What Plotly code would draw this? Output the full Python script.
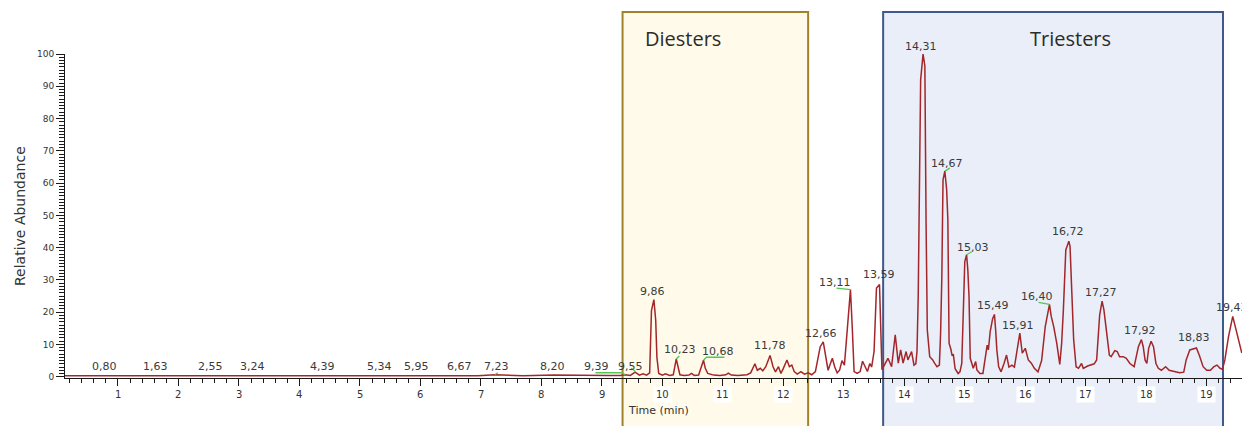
import plotly.graph_objects as go

# ---- chromatogram trace: retention time (min) and relative abundance (%) ----
RT = [
    0.12, 0.50, 0.80, 1.10, 1.63, 2.10, 2.55, 2.90, 3.24, 3.80, 4.39, 4.90,
    5.34, 5.65, 5.95, 6.30, 6.67, 6.95, 7.23, 7.70, 8.20, 8.80, 9.10, 9.30,
    9.39, 9.47, 9.55, 9.62, 9.68, 9.74, 9.79, 9.82, 9.86, 9.89, 9.91, 9.94,
    10.00, 10.05, 10.12, 10.18, 10.20, 10.23, 10.26, 10.29, 10.36, 10.44, 10.48, 10.53,
    10.60, 10.64, 10.68, 10.71, 10.75, 10.85, 10.95, 11.05, 11.09, 11.14, 11.25, 11.40,
    11.46, 11.53, 11.57, 11.62, 11.66, 11.71, 11.78, 11.83, 11.87, 11.92, 11.96, 12.00,
    12.06, 12.10, 12.14, 12.18, 12.23, 12.29, 12.35, 12.41, 12.47, 12.53, 12.61, 12.66,
    12.70, 12.74, 12.77, 12.81, 12.85, 12.89, 12.93, 12.97, 13.01, 13.07, 13.11, 13.14,
    13.17, 13.22, 13.27, 13.31, 13.35, 13.39, 13.43, 13.46, 13.50, 13.54, 13.59, 13.61,
    13.63, 13.73, 13.79, 13.85, 13.90, 13.94, 13.98, 14.03, 14.06, 14.12, 14.16, 14.19,
    14.21, 14.23, 14.26, 14.27, 14.31, 14.34, 14.36, 14.38, 14.42, 14.47, 14.50, 14.54,
    14.58, 14.60, 14.62, 14.64, 14.67, 14.70, 14.72, 14.74, 14.77, 14.79, 14.81, 14.84,
    14.89, 14.92, 14.95, 14.97, 15.00, 15.03, 15.05, 15.07, 15.09, 15.14, 15.18, 15.20,
    15.25, 15.30, 15.33, 15.37, 15.39, 15.42, 15.46, 15.49, 15.51, 15.53, 15.56, 15.60,
    15.65, 15.69, 15.73, 15.78, 15.82, 15.86, 15.91, 15.95, 16.00, 16.05, 16.10, 16.15,
    16.21, 16.27, 16.33, 16.40, 16.43, 16.47, 16.52, 16.57, 16.60, 16.63, 16.67, 16.72,
    16.74, 16.77, 16.80, 16.84, 16.88, 16.93, 16.96, 17.03, 17.08, 17.14, 17.18, 17.20,
    17.23, 17.27, 17.30, 17.34, 17.39, 17.42, 17.48, 17.52, 17.56, 17.62, 17.67, 17.73,
    17.80, 17.87, 17.92, 17.95, 17.98, 18.01, 18.04, 18.08, 18.12, 18.16, 18.20, 18.25,
    18.32, 18.38, 18.45, 18.55, 18.62, 18.66, 18.72, 18.76, 18.83, 18.88, 18.94, 19.00,
    19.06, 19.12, 19.17, 19.22, 19.26, 19.30, 19.36, 19.43, 19.48, 19.53, 19.58,
]
ABUNDANCE = [
    0.3, 0.3, 0.5, 0.3, 0.5, 0.3, 0.5, 0.3, 0.5, 0.3, 0.5, 0.3,
    0.5, 0.3, 0.5, 0.3, 0.5, 0.3, 0.6, 0.3, 0.5, 0.3, 0.4, 0.4,
    0.6, 0.4, 1.4, 0.5, 0.9, 0.5, 1.2, 20.5, 23.9, 17.5, 6.0, 1.0,
    0.5, 0.9, 0.4, 0.6, 3.0, 5.5, 3.0, 0.6, 0.4, 0.5, 1.0, 0.4,
    0.5, 3.0, 5.1, 2.6, 1.0, 0.5, 0.4, 0.6, 1.1, 0.5, 0.4, 0.6,
    1.2, 4.0, 2.0, 2.6, 1.8, 3.1, 6.6, 3.1, 1.5, 3.1, 1.0, 2.6,
    5.2, 3.1, 3.6, 1.6, 0.8, 1.6, 0.8, 1.2, 0.6, 1.6, 9.3, 10.8,
    6.2, 2.0, 3.6, 5.7, 3.0, 1.2, 2.0, 5.0, 3.6, 16.5, 27.0, 15.0,
    1.6, 1.0, 1.6, 4.8, 3.1, 1.6, 4.1, 3.0, 7.8, 27.5, 28.6, 11.0,
    2.2, 5.7, 3.1, 13.0, 4.2, 8.3, 4.2, 7.8, 5.2, 7.8, 3.6, 4.0,
    7.9, 25.0, 71.5, 92.0, 100.0, 96.3, 47.6, 14.5, 6.2, 5.2, 4.2, 3.1,
    3.6, 13.5, 30.6, 61.0, 63.7, 58.0, 48.7, 10.4, 8.5, 6.5, 7.0, 2.5,
    1.0, 1.5, 4.1, 16.6, 35.7, 37.8, 33.1, 24.8, 5.7, 2.6, 4.7, 2.1,
    1.0, 1.0, 5.2, 9.8, 8.3, 14.0, 18.0, 19.3, 14.5, 8.3, 3.1, 1.5,
    4.2, 6.7, 3.0, 3.6, 3.0, 7.3, 13.5, 7.3, 8.8, 5.2, 4.2, 2.6,
    1.5, 5.0, 15.5, 22.4, 18.6, 15.5, 10.4, 3.8, 10.0, 20.7, 39.3, 42.0,
    40.4, 25.9, 11.4, 3.1, 2.6, 4.1, 2.6, 3.3, 3.6, 4.0, 5.2, 12.4,
    19.2, 23.4, 20.7, 14.5, 6.7, 6.2, 8.1, 7.8, 6.2, 6.2, 5.7, 4.1,
    3.1, 9.3, 11.5, 9.3, 5.2, 4.1, 8.8, 11.0, 9.3, 4.1, 2.6, 2.0,
    3.1, 2.0, 1.6, 1.2, 1.4, 5.2, 8.3, 8.6, 8.9, 6.5, 3.1, 2.0,
    2.0, 3.1, 3.6, 2.6, 2.3, 5.2, 12.4, 18.7, 14.6, 10.4, 7.3,
]

# ---- labelled peaks (retention times printed above the apex) ----
PEAK_RT = [
    0.80, 1.63, 2.55, 3.24, 4.39, 5.34, 5.95, 6.67, 7.23, 8.20, 9.39, 9.55,
    9.86, 10.23, 10.68, 11.78, 12.66, 13.11, 13.59, 14.31, 14.67, 15.03,
    15.49, 15.91, 16.40, 16.72, 17.27, 17.92, 18.83, 19.43,
]

# ---- ester class windows (min) ----
REGION_NAMES = ["Diesters", "Triesters"]
REGION_START = [9.342, 13.650]
REGION_END = [12.410, 19.269]

# ---- axis ticks ----
X_TICKS = list(range(1, 20))
X_TICK_LABELS = [str(v) for v in X_TICKS]
Y_TICKS = list(range(0, 101, 10))

# ---------------------------------------------------------------------------
TRACE_COLOR = "#a3262a"
TEXT_COLOR = "#3a3a3a"
LABEL_FONT = "DejaVu Sans"
CONNECTOR_COLOR = "#53c653"

REGION_STYLE = {
    "Diesters": dict(fill="#fffaea", line="#a0822d", title_x=10.34),
    "Triesters": dict(fill="#e9eef8", line="#3f5a8a", title_x=16.74),
}

# label placement (pixel shift of label centre from apex: right, up)
DEFAULT_SHIFT = (-1, 9)
LABEL_SHIFT = {
    7.23: (2, 8.5), 9.39: (-29, 8), 9.55: (-5, 6), 9.86: (-1, 8),
    10.23: (4, 9), 10.68: (14.5, 9), 11.78: (0, 10), 12.66: (-2, 8),
    13.11: (-15, 7), 13.59: (-1, 10), 14.31: (-2, 8), 14.67: (2, 8),
    15.03: (6, 7), 15.91: (-2, 8), 16.40: (-12, 8), 16.72: (-1, 10),
    18.83: (-2, 10),
}
# small leader lines joining some labels to their peak (pixels from apex)
LEADERS = {
    7.23: [(0, 0), (3, 2)],
    9.39: [(-30, 2), (-4, 2), (0, 0)],
    9.55: [(-4, 4), (0, 1)],
    10.23: [(0, 0), (3, 3)],
    10.68: [(0, 0), (3, 3), (21, 3)],
    13.11: [(-14, 1.5), (0, 0)],
    14.67: [(0, 0), (5, 3)],
    15.03: [(0, 0), (5, 3)],
    16.40: [(-11, 2), (0, 0)],
}

height_at = dict(zip(RT, ABUNDANCE))

fig = go.Figure()

fig.add_trace(go.Scatter(
    x=RT, y=ABUNDANCE, mode="lines",
    line=dict(color=TRACE_COLOR, width=1.5),
    hoverinfo="skip", showlegend=False,
))

shapes = []
annotations = []

# shaded ester windows with their titles
for name, x0, x1 in zip(REGION_NAMES, REGION_START, REGION_END):
    st = REGION_STYLE[name]
    shapes.append(dict(
        type="rect", xref="x", yref="paper", x0=x0, x1=x1, y0=-0.25, y1=1.1296,
        fillcolor=st["fill"], line=dict(color=st["line"], width=2), layer="below",
    ))
    annotations.append(dict(
        x=st["title_x"], y=1.049, xref="x", yref="paper", text=name,
        showarrow=False, xanchor="center", yanchor="middle",
        font=dict(family="Open Sans", size=20, color="#2b2b2b"),
    ))

# peak labels
for rt in PEAK_RT:
    h = height_at[rt]
    dx, dy = LABEL_SHIFT.get(rt, DEFAULT_SHIFT)
    annotations.append(dict(
        x=rt, y=h, xref="x", yref="y", text=f"{rt:.2f}".replace(".", ","),
        showarrow=False, xanchor="center", yanchor="middle",
        xshift=dx, yshift=dy,
        font=dict(family=LABEL_FONT, size=11, color=TEXT_COLOR),
    ))
    if rt in LEADERS:
        pts = LEADERS[rt]
        path = "M " + " L ".join(f"{px} {py}" for px, py in pts)
        shapes.append(dict(
            type="path", xref="x", yref="y",
            xsizemode="pixel", ysizemode="pixel", xanchor=rt, yanchor=h,
            path=path, line=dict(color=CONNECTOR_COLOR, width=1.3), layer="above",
        ))

# x tick labels on small white plates
for v, lab in zip(X_TICKS, X_TICK_LABELS):
    annotations.append(dict(
        x=v, y=0, xref="x", yref="paper", text=lab, showarrow=False,
        xanchor="center", yanchor="middle", yshift=-16,
        bgcolor="white", borderpad=2,
        font=dict(family=LABEL_FONT, size=10, color="#333333"),
    ))

# axis titles
annotations.append(dict(
    x=9.93, y=0, xref="x", yref="paper", text="Time (min)", showarrow=False,
    xanchor="center", yanchor="middle", yshift=-32,
    font=dict(family=LABEL_FONT, size=11, color="#333333"),
))
annotations.append(dict(
    x=0, y=0.5, xref="paper", yref="paper", text="Relative Abundance",
    showarrow=False, textangle=-90, xanchor="center", yanchor="middle",
    xshift=-45, font=dict(family=LABEL_FONT, size=14, color="#333333"),
))

fig.update_layout(
    width=1242, height=426,
    margin=dict(l=65, r=0, t=54, b=48, pad=0),
    paper_bgcolor="white", plot_bgcolor="rgba(0,0,0,0)",
    shapes=shapes, annotations=annotations,
    showlegend=False,
)

fig.update_xaxes(
    range=[0.124, 19.583], showgrid=False, zeroline=False,
    showline=True, linecolor="#1a1a1a", linewidth=1,
    tickmode="array", tickvals=X_TICKS, showticklabels=False,
    ticks="outside", ticklen=7, tickcolor="#1a1a1a", tickwidth=1,
    minor=dict(dtick=0.2, tick0=0, ticks="outside", ticklen=4,
               tickcolor="#1a1a1a", tickwidth=1, showgrid=False),
)
fig.update_yaxes(
    range=[-0.4, 100], showgrid=False, zeroline=False,
    showline=True, linecolor="#1a1a1a", linewidth=1,
    tickmode="array", tickvals=Y_TICKS,
    ticks="outside", ticklen=8, tickcolor="#1a1a1a", tickwidth=1,
    tickfont=dict(family=LABEL_FONT, size=9, color="#333333"),
    minor=dict(dtick=1, tick0=0, ticks="outside", ticklen=5,
               tickcolor="#1a1a1a", tickwidth=1, showgrid=False),
)

fig.write_html("out.html")
